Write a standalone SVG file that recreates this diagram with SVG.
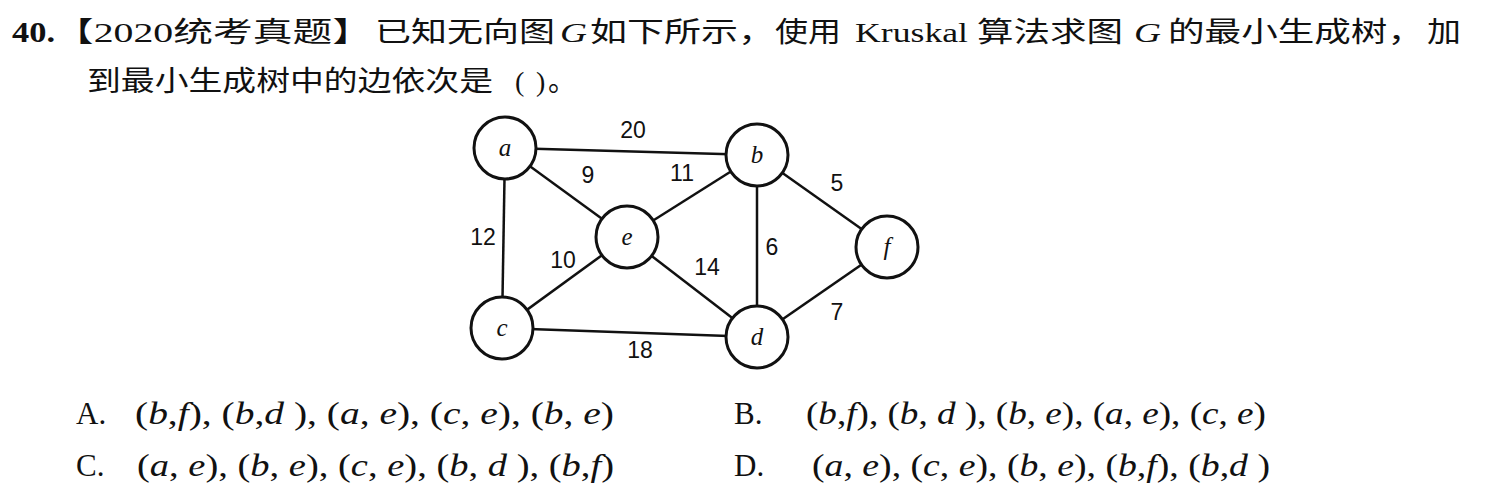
<svg xmlns="http://www.w3.org/2000/svg" width="1488" height="493" viewBox="0 0 1488 493">
<style>
.q{font-family:"Liberation Serif","Noto Sans CJK SC",serif;font-size:28px;fill:#111}
.qn{font-family:"Liberation Serif",serif;font-size:30px;font-weight:bold;fill:#111}
.it{font-style:italic}
.opt{font-family:"Liberation Serif",serif;font-size:31px;fill:#111}
.node circle{fill:#fff;stroke:#111;stroke-width:3}
.node text{font-family:"Liberation Serif",serif;font-style:italic;font-size:25px;fill:#111;text-anchor:middle}
.edges line{stroke:#111;stroke-width:2.5}
.w{font-family:"Liberation Sans",sans-serif;font-size:23px;fill:#111;text-anchor:middle}
</style>
<rect width="1488" height="493" fill="#fff"/>
<text class="qn" x="12" y="42" textLength="43" lengthAdjust="spacingAndGlyphs">40.</text>
<text class="q" x="54" y="42" textLength="318" lengthAdjust="spacingAndGlyphs">【2020统考真题】</text>
<text class="q" x="375" y="42" textLength="180" lengthAdjust="spacingAndGlyphs">已知无向图</text>
<text class="q it" x="560" y="42" textLength="27" lengthAdjust="spacingAndGlyphs">G</text>
<text class="q" x="590" y="42" textLength="185" lengthAdjust="spacingAndGlyphs">如下所示，</text>
<text class="q" x="775" y="42" textLength="66" lengthAdjust="spacingAndGlyphs">使用</text>
<text class="q" x="855" y="42" textLength="113" lengthAdjust="spacingAndGlyphs">Kruskal</text>
<text class="q" x="977" y="42" textLength="146" lengthAdjust="spacingAndGlyphs">算法求图</text>
<text class="q it" x="1134" y="42" textLength="27" lengthAdjust="spacingAndGlyphs">G</text>
<text class="q" x="1168" y="42" textLength="256" lengthAdjust="spacingAndGlyphs">的最小生成树，</text>
<text class="q" x="1427" y="42" textLength="34" lengthAdjust="spacingAndGlyphs">加</text>
<text class="q" x="87" y="91" textLength="406" lengthAdjust="spacingAndGlyphs">到最小生成树中的边依次是</text>
<text class="q" x="515" y="91">(</text>
<text class="q" x="536" y="91">)</text>
<text class="q" x="548" y="91">。</text>
<g class="edges">
<line x1="505" y1="148" x2="757" y2="155"/>
<line x1="505" y1="148" x2="502" y2="328"/>
<line x1="505" y1="148" x2="627" y2="237"/>
<line x1="757" y1="155" x2="627" y2="237"/>
<line x1="757" y1="155" x2="757" y2="337"/>
<line x1="757" y1="155" x2="887" y2="247"/>
<line x1="627" y1="237" x2="502" y2="328"/>
<line x1="627" y1="237" x2="757" y2="337"/>
<line x1="502" y1="328" x2="757" y2="337"/>
<line x1="887" y1="247" x2="757" y2="337"/>
<text class="w" x="633" y="138">20</text>
<text class="w" x="588" y="183">9</text>
<text class="w" x="682" y="181">11</text>
<text class="w" x="837" y="191">5</text>
<text class="w" x="483" y="245">12</text>
<text class="w" x="563" y="268">10</text>
<text class="w" x="772" y="255">6</text>
<text class="w" x="707" y="275">14</text>
<text class="w" x="837" y="320">7</text>
<text class="w" x="640" y="358">18</text>
</g>
<g id="a" class="node"><circle cx="505" cy="148" r="31"/><text x="505" y="156">a</text></g>
<g id="b" class="node"><circle cx="757" cy="155" r="31"/><text x="757" y="163">b</text></g>
<g id="e" class="node"><circle cx="627" cy="237" r="31"/><text x="627" y="245">e</text></g>
<g id="f" class="node"><circle cx="887" cy="247" r="31"/><text x="887" y="255">f</text></g>
<g id="c" class="node"><circle cx="502" cy="328" r="31"/><text x="502" y="336">c</text></g>
<g id="d" class="node"><circle cx="757" cy="337" r="31"/><text x="757" y="345">d</text></g>
<text class="opt" x="76" y="424">A.</text>
<text class="opt" x="135" y="424" textLength="479" lengthAdjust="spacingAndGlyphs">(<tspan class="it">b</tspan>,<tspan class="it">f</tspan>), (<tspan class="it">b</tspan>,<tspan class="it">d</tspan> ), (<tspan class="it">a</tspan>, <tspan class="it">e</tspan>), (<tspan class="it">c</tspan>, <tspan class="it">e</tspan>), (<tspan class="it">b</tspan>, <tspan class="it">e</tspan>)</text>
<text class="opt" x="76" y="476">C.</text>
<text class="opt" x="137" y="476" textLength="477" lengthAdjust="spacingAndGlyphs">(<tspan class="it">a</tspan>, <tspan class="it">e</tspan>), (<tspan class="it">b</tspan>, <tspan class="it">e</tspan>), (<tspan class="it">c</tspan>, <tspan class="it">e</tspan>), (<tspan class="it">b</tspan>, <tspan class="it">d</tspan> ), (<tspan class="it">b</tspan>,<tspan class="it">f</tspan>)</text>
<text class="opt" x="734" y="424">B.</text>
<text class="opt" x="806" y="424" textLength="460" lengthAdjust="spacingAndGlyphs">(<tspan class="it">b</tspan>,<tspan class="it">f</tspan>), (<tspan class="it">b</tspan>, <tspan class="it">d</tspan> ), (<tspan class="it">b</tspan>, <tspan class="it">e</tspan>), (<tspan class="it">a</tspan>, <tspan class="it">e</tspan>), (<tspan class="it">c</tspan>, <tspan class="it">e</tspan>)</text>
<text class="opt" x="734" y="476">D.</text>
<text class="opt" x="812" y="476" textLength="458" lengthAdjust="spacingAndGlyphs">(<tspan class="it">a</tspan>, <tspan class="it">e</tspan>), (<tspan class="it">c</tspan>, <tspan class="it">e</tspan>), (<tspan class="it">b</tspan>, <tspan class="it">e</tspan>), (<tspan class="it">b</tspan>,<tspan class="it">f</tspan>), (<tspan class="it">b</tspan>,<tspan class="it">d</tspan> )</text>
</svg>
